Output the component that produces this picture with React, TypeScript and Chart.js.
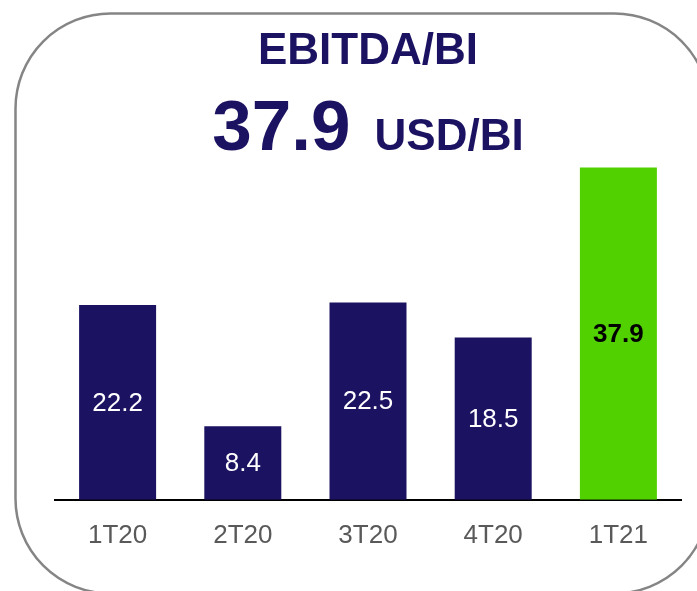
import React, { useEffect, useRef } from "react";
import { Chart, registerables } from "chart.js";

Chart.register(...registerables);

const categories = ["1T20", "2T20", "3T20", "4T20", "1T21"];
const values = [22.2, 8.4, 22.5, 18.5, 37.9];
const barColors = ["#1b1262", "#1b1262", "#1b1262", "#1b1262", "#52d100"];
const labelColors = ["#ffffff", "#ffffff", "#ffffff", "#ffffff", "#000000"];
const labelBold = [false, false, false, false, true];
const titleText = "EBITDA/BI";
const headlineValue = "37.9";
const headlineUnit = "USD/BI";

const FONT = '"Liberation Sans", Arial, Helvetica, sans-serif';
const NAVY = "#1b1262";

const framePlugin = {
  id: "frame",
  beforeDraw(chart: any) {
    const ctx = chart.ctx;
    ctx.save();
    ctx.strokeStyle = "#858585";
    ctx.lineWidth = 2.5;
    ctx.beginPath();
    ctx.roundRect(15.5, 13.5, 694, 580, 95);
    ctx.stroke();
    ctx.restore();
  },
};

const headerPlugin = {
  id: "header",
  afterDraw(chart: any) {
    const ctx = chart.ctx;
    const cx = 368;
    ctx.save();
    ctx.fillStyle = NAVY;
    ctx.textBaseline = "alphabetic";
    ctx.textAlign = "left";
    ctx.font = `bold 44px ${FONT}`;
    const tw = ctx.measureText(titleText).width;
    ctx.fillText(titleText, cx - tw / 2, 64);

    ctx.font = `bold 71px ${FONT}`;
    const w1 = ctx.measureText(headlineValue).width;
    ctx.font = `bold 44px ${FONT}`;
    const w2 = ctx.measureText(headlineUnit).width;
    const gap = 24;
    const total = w1 + gap + w2;
    const x0 = cx - total / 2;
    ctx.font = `bold 71px ${FONT}`;
    ctx.fillText(headlineValue, x0, 150);
    ctx.font = `bold 44px ${FONT}`;
    ctx.fillText(headlineUnit, x0 + w1 + gap, 150);
    ctx.restore();
  },
};

const barLabelPlugin = {
  id: "barLabels",
  afterDatasetsDraw(chart: any) {
    const ctx = chart.ctx;
    const meta = chart.getDatasetMeta(0);
    ctx.save();
    ctx.textAlign = "center";
    ctx.textBaseline = "middle";
    meta.data.forEach((bar: any, i: number) => {
      ctx.font = `${labelBold[i] ? "bold " : ""}26px ${FONT}`;
      ctx.fillStyle = labelColors[i];
      const y = (bar.y + bar.base) / 2;
      ctx.fillText(values[i].toFixed(1), bar.x, y + 1);
    });
    ctx.restore();
  },
};

export default function App() {
  const ref = useRef<HTMLCanvasElement | null>(null);

  useEffect(() => {
    document.body.style.margin = "0";
    if (!ref.current) return;
    const chart = new Chart(ref.current, {
      type: "bar",
      data: {
        labels: categories,
        datasets: [
          {
            data: values,
            backgroundColor: barColors,
            borderWidth: 0,
            barPercentage: 0.615,
            categoryPercentage: 1,
          },
        ],
      },
      options: {
        animation: false,
        responsive: true,
        maintainAspectRatio: false,
        layout: { padding: { left: 55, right: 16, top: 149, bottom: 20 } },
        plugins: {
          legend: { display: false },
          title: { display: false },
          tooltip: { enabled: false },
        },
        scales: {
          x: {
            grid: { display: false, drawTicks: false },
            border: { display: true, color: "#000000", width: 2 },
            ticks: {
              color: "#595959",
              font: { family: FONT, size: 26 },
              padding: 20,
            },
          },
          y: {
            display: false,
            min: 0,
            max: 40,
          },
        },
      },
      plugins: [framePlugin, headerPlugin, barLabelPlugin],
    });
    return () => chart.destroy();
  }, []);

  return (
    <div style={{ position: "absolute", left: 0, top: 0, width: 697, height: 591 }}>
      <canvas ref={ref} />
    </div>
  );
}
